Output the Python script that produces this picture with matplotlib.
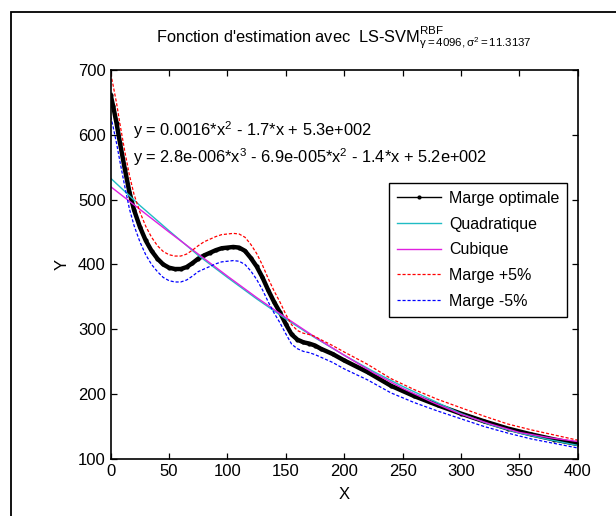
import matplotlib
matplotlib.use("Agg")
import matplotlib.pyplot as plt
from matplotlib.patches import Rectangle

plt.rcParams['font.family'] = ['Liberation Sans', 'DejaVu Sans']
plt.rcParams['mathtext.fontset'] = 'custom'
plt.rcParams['mathtext.rm'] = 'Liberation Sans'
plt.rcParams['mathtext.it'] = 'Liberation Sans:italic'

# courbe LS-SVM (marge optimale)
x_opt = [0, 2, 5, 8, 12, 16, 20, 25, 30, 35, 40, 45, 50, 55, 60, 65, 70, 75, 80, 85,
         90, 95, 100, 105, 110, 115, 120, 125, 130, 135, 140, 145, 150, 155, 160, 165,
         170, 175, 180, 190, 200, 220, 240, 260, 280, 300, 320, 340, 360, 380, 400]
y_opt = [661, 645, 618, 587, 548, 512, 484, 458, 437, 421, 409, 400, 395, 393, 393, 396,
         402, 409, 414, 418, 422, 425, 426, 427, 426, 421, 410, 397, 380, 360, 342, 326,
         308, 292, 284, 280, 278, 275, 270, 262, 252, 234, 213, 197, 183, 170, 158, 147,
         138, 130, 123]
y_plus = [694, 677, 649, 616, 575, 538, 508, 481, 459, 442, 429, 420, 415, 413, 413, 416,
          422, 429, 435, 439, 443, 446, 447, 448, 447, 442, 431, 417, 399, 378, 359, 342,
          323, 307, 298, 294, 292, 289, 284, 275, 265, 246, 224, 207, 192, 179, 166, 154,
          145, 137, 129]
y_minus = [628, 613, 587, 558, 521, 486, 460, 435, 415, 400, 389, 380, 375, 373, 373, 376,
           382, 389, 393, 397, 401, 404, 405, 406, 405, 400, 390, 377, 361, 342, 325, 310,
           293, 277, 270, 266, 264, 261, 257, 249, 239, 222, 202, 187, 174, 162, 150, 140,
           131, 124, 117]

# ajustements polynomiaux
x_fit = [0, 25, 50, 75, 100, 125, 150, 175, 200, 225, 250, 275, 300, 325, 350, 375, 400]
y_quad = [533, 491, 452, 414, 380, 347, 316, 287, 260, 235, 212, 191, 170, 153, 140, 130, 121]
y_cub = [520, 485, 450, 416, 382, 349, 318, 288, 260, 233, 209, 188, 169, 154, 141, 133, 127]

eq_quad = r"y = 0.0016*x$^{\mathregular{2}}$ - 1.7*x + 5.3e+002"
eq_cub = r"y = 2.8e-006*x$^{\mathregular{3}}$ - 6.9e-005*x$^{\mathregular{2}}$ - 1.4*x + 5.2e+002"
titre = (r"Fonction d'estimation avec  LS-SVM$^{\mathregular{RBF}}"
         r"_{\mathregular{\gamma=4096,\sigma^2=11.3137}}$")

fig = plt.figure(figsize=(6.16, 5.16), dpi=100)
ax = fig.add_axes([0.1797, 0.1105, 0.7581, 0.7539])

ax.plot(x_opt, y_opt, 'k.-', lw=3.2, ms=4, label='Marge optimale')
ax.plot(x_fit, y_quad, color='#20bcc4', lw=1, label='Quadratique')
ax.plot(x_fit, y_cub, color='#e020e0', lw=1, label='Cubique')
ax.plot(x_opt, y_plus, 'r--', lw=0.9, dashes=(2.5, 1.5), label='Marge +5%')
ax.plot(x_opt, y_minus, 'b--', lw=0.9, dashes=(2.5, 1.5), label='Marge -5%')

ax.text(19, 607, eq_quad, fontsize=11.8, va='center')
ax.text(19, 566, eq_cub, fontsize=11.8, va='center')

ax.set_xlim(0, 400)
ax.set_ylim(100, 700)
ax.set_xticks(range(0, 401, 50))
ax.set_yticks(range(100, 701, 100))
ax.tick_params(direction='in', top=True, right=True, length=4, width=0.9, labelsize=12)
for s in ax.spines.values():
    s.set_linewidth(1.2)
ax.set_xlabel('X', fontsize=12, labelpad=6)
ax.set_ylabel('Y', fontsize=12, labelpad=6)
ax.set_title(titre, fontsize=11.8, pad=20)

leg = ax.legend(loc='upper right', bbox_to_anchor=(0.978, 0.7095), borderaxespad=0,
                fontsize=11.5, frameon=True, fancybox=False, edgecolor='k', framealpha=1,
                handlelength=2.75, handletextpad=0.5, numpoints=1, labelspacing=0.67,
                borderpad=0.5)
leg.get_frame().set_linewidth(1)
leg.get_lines()[0].set_linewidth(1)

fig.patches.append(Rectangle((10.7 / 616, -0.1), 1.2, 0.1 + 1 - 11.7 / 516,
                             transform=fig.transFigure, fill=False, lw=1.3,
                             edgecolor='k', clip_on=False))

fig.savefig('out.png', dpi=100)
